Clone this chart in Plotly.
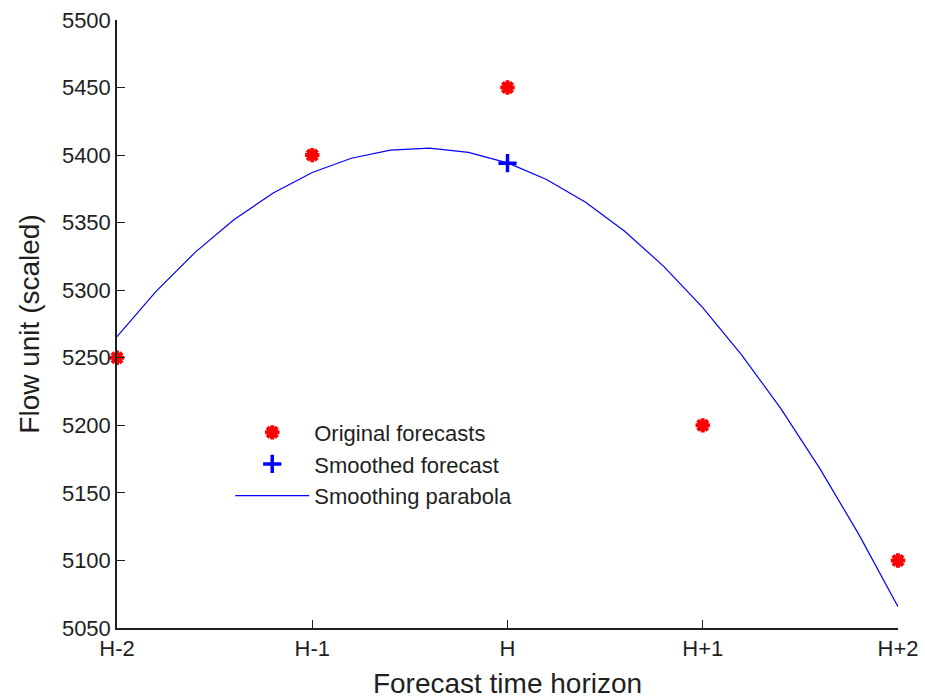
import plotly.graph_objects as go

# Forecast horizons (numeric positions and their tick labels)
horizon_pos = [-2, -1, 0, 1, 2]
horizon_labels = ["H-2", "H-1", "H", "H+1", "H+2"]

# Original point forecasts
original_forecasts = [5250, 5400, 5450, 5200, 5100]

# Smoothed forecast at the current horizon H
smoothed_x = [0]
smoothed_y = [5394]

# Smoothing parabola, sampled every 0.2 horizon steps
parabola_x = [-2.0, -1.8, -1.6, -1.4, -1.2, -1.0, -0.8, -0.6, -0.4, -0.2, 0.0,
              0.2, 0.4, 0.6, 0.8, 1.0, 1.2, 1.4, 1.6, 1.8, 2.0]
parabola_y = [5265.7, 5299.1, 5328.0, 5352.3, 5372.0, 5387.1, 5397.7, 5403.7,
              5405.1, 5402.0, 5394.3, 5382.0, 5365.1, 5343.7, 5317.7, 5287.1,
              5252.0, 5212.3, 5168.0, 5119.1, 5065.7]

y_ticks = list(range(5050, 5501, 50))

FONT = "Liberation Sans, Arial, Helvetica, sans-serif"
AXIS_COLOR = "#1f1f1f"

fig = go.Figure()

fig.add_trace(go.Scatter(
    x=horizon_pos, y=original_forecasts, mode="markers",
    name="Original forecasts",
    marker=dict(symbol="asterisk-open", size=12, color="#ff0000",
                line=dict(color="#ff0000", width=4)),
    cliponaxis=False,
))
fig.add_trace(go.Scatter(
    x=smoothed_x, y=smoothed_y, mode="markers",
    name="Smoothed forecast",
    marker=dict(symbol="cross-thin-open", size=13, color="#0000ff",
                line=dict(color="#0000ff", width=3.5)),
    cliponaxis=False,
))
fig.add_trace(go.Scatter(
    x=parabola_x, y=parabola_y, mode="lines",
    name="Smoothing parabola",
    line=dict(color="#0000ff", width=1.2),
    cliponaxis=False,
))

fig.update_layout(
    width=925, height=700,
    margin=dict(l=117, r=27, t=20, b=72, autoexpand=False),
    paper_bgcolor="white", plot_bgcolor="white",
    font=dict(family=FONT, size=22, color=AXIS_COLOR),
    legend=dict(
        x=0.145, y=0.356, xanchor="left", yanchor="top",
        bgcolor="rgba(0,0,0,0)", borderwidth=0,
        font=dict(family=FONT, size=22, color=AXIS_COLOR),
        itemwidth=74, tracegroupgap=0,
    ),
    showlegend=True,
)

fig.update_xaxes(
    range=[-2, 2], automargin=False,
    tickmode="array", tickvals=horizon_pos, ticktext=horizon_labels,
    ticks="inside", ticklen=8, tickcolor=AXIS_COLOR, tickwidth=1,
    showline=True, linecolor=AXIS_COLOR, linewidth=1.5,
    showgrid=False, zeroline=False,
    tickfont=dict(family=FONT, size=22, color=AXIS_COLOR),
    title=dict(text="Forecast time horizon", standoff=13,
               font=dict(family=FONT, size=28, color=AXIS_COLOR)),
)
fig.update_yaxes(
    range=[5050, 5500], automargin=False,
    tickmode="array", tickvals=y_ticks,
    ticks="inside", ticklen=8, tickcolor=AXIS_COLOR, tickwidth=1,
    showline=True, linecolor=AXIS_COLOR, linewidth=1.5,
    showgrid=False, zeroline=False,
    tickfont=dict(family=FONT, size=22, color=AXIS_COLOR),
    title=dict(text="Flow unit (scaled)", standoff=14,
               font=dict(family=FONT, size=28, color=AXIS_COLOR)),
)

fig.write_html("out.html")
